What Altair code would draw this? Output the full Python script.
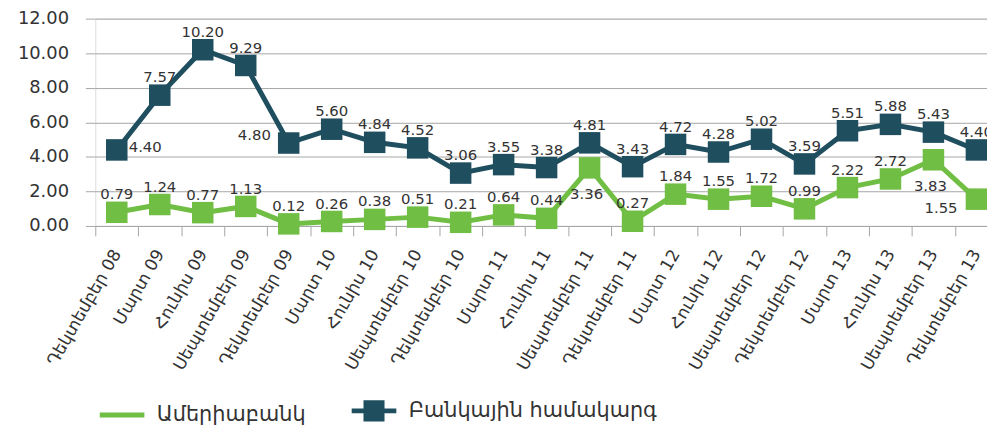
import altair as alt
import pandas as pd

periods = ["Դեկտեմբեր 08", "Մարտ 09", "Հունիս 09", "Սեպտեմբեր 09", "Դեկտեմբեր 09",
           "Մարտ 10", "Հունիս 10", "Սեպտեմբեր 10", "Դեկտեմբեր 10",
           "Մարտ 11", "Հունիս 11", "Սեպտեմբեր 11", "Դեկտեմբեր 11",
           "Մարտ 12", "Հունիս 12", "Սեպտեմբեր 12", "Դեկտեմբեր 12",
           "Մարտ 13", "Հունիս 13", "Սեպտեմբեր 13", "Դեկտեմբեր 13"]

series_names = ["Ամերիաբանկ", "Բանկային համակարգ"]

ameria = [0.79, 1.24, 0.77, 1.13, 0.12, 0.26, 0.38, 0.51, 0.21, 0.64, 0.44,
          3.36, 0.27, 1.84, 1.55, 1.72, 0.99, 2.22, 2.72, 3.83, 1.55]
banking = [4.40, 7.57, 10.20, 9.29, 4.80, 5.60, 4.84, 4.52, 3.06, 3.55, 3.38,
           4.81, 3.43, 4.72, 4.28, 5.02, 3.59, 5.51, 5.88, 5.43, 4.40]

y_ticks = [0, 2, 4, 6, 8, 10, 12]

# label placement exceptions (default: above the marker)
label_side = {
    ("Բանկային համակարգ", 0): "right",
    ("Բանկային համակարգ", 4): "left",
    ("Ամերիաբանկ", 11): "below",
    ("Ամերիաբանկ", 19): "below",
    ("Ամերիաբանկ", 20): "belowleft",
}

GREEN = "#70be44"
DARK = "#1f4e5f"
GRID = "#a6a6a6"
TEXT = "#333333"

rows = []
for name, vals in zip(series_names, [ameria, banking]):
    for i, (p, v) in enumerate(zip(periods, vals)):
        rows.append({"period": p, "series": name, "value": v,
                     "label": f"{v:.2f}", "side": label_side.get((name, i), "above")})
df = pd.DataFrame(rows)

x_enc = alt.X("period:N", sort=periods,
              scale=alt.Scale(range=[0, 910], paddingInner=0, paddingOuter=0),
              axis=alt.Axis(title=None, labelAngle=-60, labelFontSize=17,
                            labelFont="DejaVu Sans", labelColor=TEXT,
                            tickBand="extent", tickSize=10, tickColor=GRID,
                            domainColor=GRID, labelPadding=15, grid=False,
                            labelOverlap=False))
y_enc = alt.Y("value:Q", scale=alt.Scale(domain=[0, 12], nice=False),
              axis=alt.Axis(title=None, values=y_ticks, format=".2f",
                            labelFontSize=18, labelFont="DejaVu Sans",
                            labelColor=TEXT, tickSize=10, tickColor=GRID,
                            gridColor=GRID, domain=False, labelPadding=17,
                            labelOverlap=False))

base = alt.Chart(df).encode(x=x_enc, y=y_enc)

# data-driven domain (sorted: Ամերիաբանկ, Բանկային համակարգ) for the marks
mark_color = alt.Color("series:N", scale=alt.Scale(range=[GREEN, DARK]), legend=None)
legend_color_scale = alt.Scale(domain=series_names, range=[GREEN, DARK])
shape_scale = alt.Scale(domain=series_names,
                        range=["M-1,0H1", "M-1,0H1M-0.36,-0.36H0.36V0.36H-0.36Z"])

lines = base.mark_line(strokeWidth=5).encode(color=mark_color)
squares = base.mark_square(size=470, opacity=1, filled=True).encode(color=mark_color)

def labels(side, **kw):
    return base.transform_filter(alt.datum.side == side).mark_text(
        font="DejaVu Sans", fontSize=15, color=TEXT, **kw
    ).encode(text="label:N")

lab_above = labels("above", align="center", baseline="middle", dy=-18)
lab_right = labels("right", align="left", baseline="middle", dx=12, dy=-3)
lab_left = labels("left", align="right", baseline="middle", dx=-18, dy=-8)
lab_below = labels("below", align="center", baseline="middle", dx=-3, dy=26)
lab_belowleft = labels("belowleft", align="right", baseline="middle", dx=-19, dy=9)

leg = alt.Legend(title=None, orient="none", legendX=2, legendY=370,
                 direction="horizontal", symbolStrokeWidth=5, symbolSize=2025,
                 labelFontSize=21, labelFont="DejaVu Sans", labelColor=TEXT,
                 labelOffset=10, columnPadding=35, symbolOpacity=1, padding=0,
                 labelLimit=0)
legend_layer = base.mark_point(filled=True, opacity=0).encode(
    fill=alt.Fill("series:N", scale=legend_color_scale, legend=leg),
    stroke=alt.Stroke("series:N", scale=legend_color_scale, legend=leg),
    shape=alt.Shape("series:N", scale=shape_scale, legend=leg),
)

chart = alt.layer(lines, squares, lab_above, lab_right, lab_left, lab_below,
                  lab_belowleft, legend_layer).properties(
    width=899, height=209,
    autosize=alt.AutoSizeParams(type="none"),
    padding={"left": 88, "top": 9, "right": 0, "bottom": 204},
).configure_view(stroke=None).configure(background="white")

chart.save("out.html", embed_options={"renderer": "svg", "actions": False})
